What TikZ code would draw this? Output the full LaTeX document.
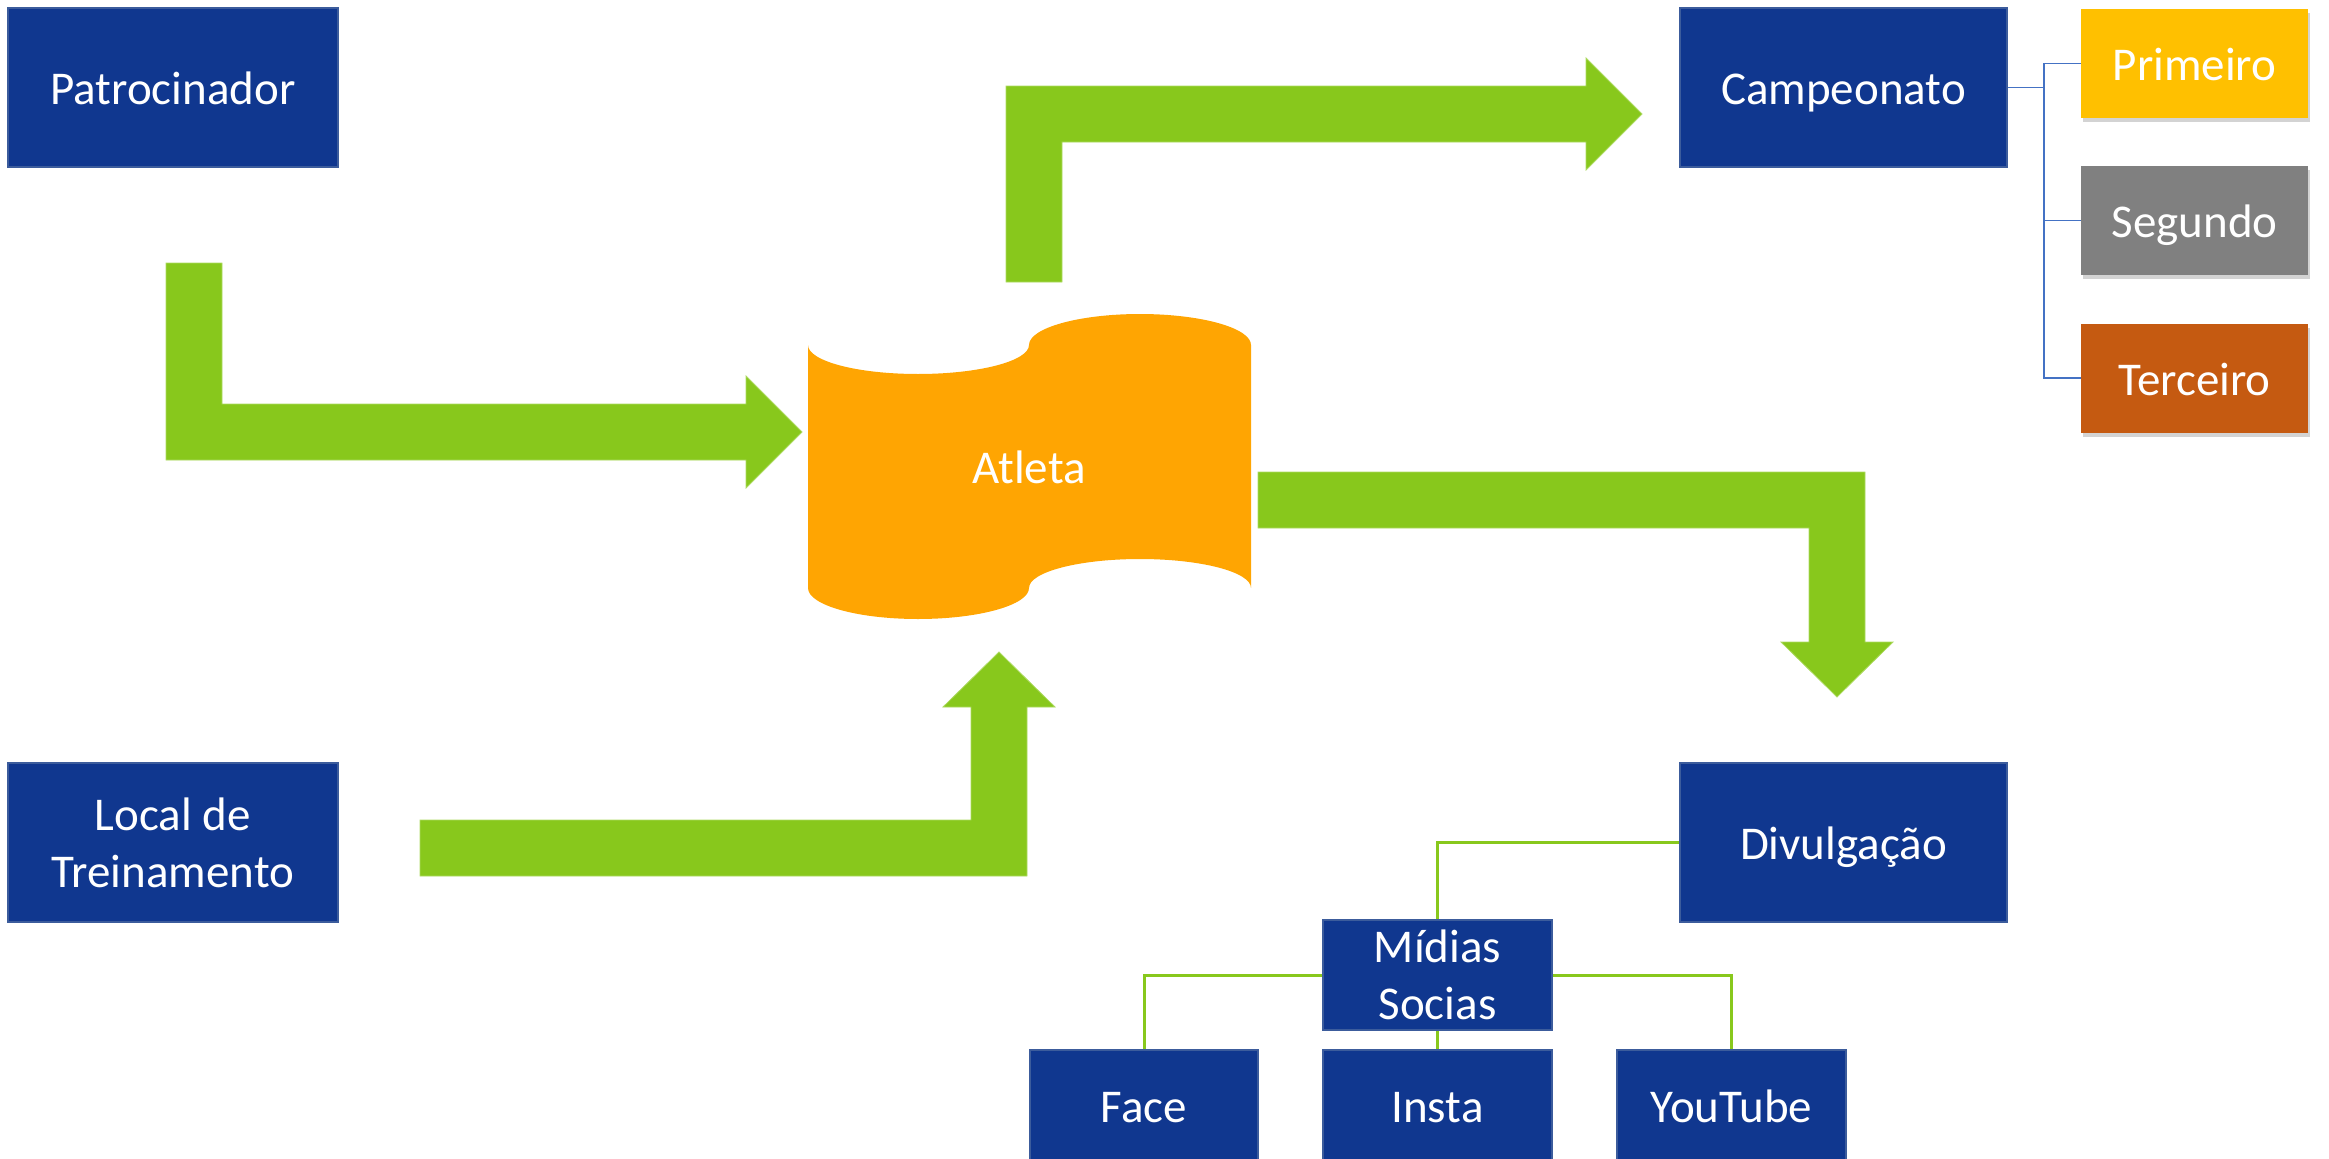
\documentclass[tikz,border=0pt]{standalone}
\usepackage{fontspec}
\setmainfont{Carlito}
\usetikzlibrary{shadows}
\definecolor{boxblue}{HTML}{10378F}
\definecolor{boxedge}{HTML}{3C5C9C}
\definecolor{arrowgreen}{HTML}{88C81C}
\definecolor{linkblue}{HTML}{4472C4}
\definecolor{atleta}{HTML}{FFA502}
\definecolor{gold}{HTML}{FFC000}
\definecolor{silver}{HTML}{808080}
\definecolor{bronze}{HTML}{C55A11}
\tikzset{
  label text/.style={text=white, font=\fontsize{47}{57}\selectfont,
    text height=42pt, text depth=8pt},
  multiline/.style={text height=, text depth=},
  bigbox/.style={label text, draw=boxedge, line width=2pt, fill=boxblue,
    minimum width=330pt, minimum height=159pt, inner sep=0pt, align=center},
  smallbox/.style={bigbox, minimum width=229pt, minimum height=110pt},
  medal/.style={label text, fill=#1, minimum width=227pt, minimum height=109pt,
    inner sep=0pt,
    drop shadow={opacity=0.35, shadow xshift=2pt, shadow yshift=-4pt}},
  blockarrow/.style={fill=arrowgreen, draw=arrowgreen!70!white, line width=0.8pt},
  bluelink/.style={draw=linkblue, line width=1.6pt},
  greenlink/.style={draw=arrowgreen, line width=3pt}
}
\begin{document}
\begin{tikzpicture}[x=1pt,y=-1pt]
\useasboundingbox (0,0) rectangle (2329,1159);

% block arrows
\fill[blockarrow] (166,263) -- (222,263) -- (222,404) -- (746,404) -- (746,376) -- (802,432) -- (746,488) -- (746,460) -- (166,460) -- cycle;
\fill[blockarrow] (1006,282) -- (1006,86) -- (1586,86) -- (1586,58) -- (1642,114) -- (1586,170) -- (1586,142) -- (1062,142) -- (1062,282) -- cycle;
\fill[blockarrow] (1258,472) -- (1865,472) -- (1865,642) -- (1893,642) -- (1837,697) -- (1781,642) -- (1809,642) -- (1809,528) -- (1258,528) -- cycle;
\fill[blockarrow] (420,820) -- (971,820) -- (971,707) -- (943,707) -- (999,652) -- (1055,707) -- (1027,707) -- (1027,876) -- (420,876) -- cycle;

% Atleta tape shape
\fill[atleta] (808,345) .. controls (808,361) and (857,374) .. (918,374)
  .. controls (979,374) and (1029,361) .. (1029,345)
  .. controls (1029,328) and (1079,314) .. (1140,314)
  .. controls (1201,314) and (1251,328) .. (1251,345)
  -- (1251,588)
  .. controls (1251,572) and (1201,559) .. (1140,559)
  .. controls (1079,559) and (1029,572) .. (1029,588)
  .. controls (1029,605) and (979,619) .. (918,619)
  .. controls (857,619) and (808,605) .. (808,588) -- cycle;
\node[label text, inner sep=0pt] (atl) at (1029,466) {Atleta};

% main boxes
\node[bigbox] (pat) at (173,87.5) {Patrocinador};
\node[bigbox, multiline] (loc) at (173,842.5) {Local de\\Treinamento};
\node[bigbox, minimum width=327pt] (camp) at (1843.5,87.5) {Campeonato};
\node[bigbox, minimum width=327pt] (div) at (1843.5,842.5) {Divulgação};

% medals
\node[medal=gold] (prim) at (2194.5,63.5) {Primeiro};
\node[medal=silver] (seg) at (2194.5,220.5) {Segundo};
\node[medal=bronze] (ter) at (2194.5,378) {Terceiro};
\coordinate (cj) at (2044,87.5);
\draw[bluelink] (camp.east) -- (cj);
\draw[bluelink] (cj) |- (prim.west);
\draw[bluelink] (cj) |- (seg.west);
\draw[bluelink] (cj) |- (ter.west);

% social media tree
\node[smallbox, multiline] (mid) at (1437.5,975) {Mídias\\Socias};
\node[smallbox, minimum width=228pt] (face) at (1144,1105) {Face};
\node[smallbox] (insta) at (1437.5,1105) {Insta};
\node[smallbox] (yt) at (1731.5,1105) {YouTube};
\draw[greenlink] (div.west) -| (mid.north);
\draw[greenlink] (mid.west) -| (face.north);
\draw[greenlink] (mid.east) -| (yt.north);
\draw[greenlink] (mid.south) -- (insta.north);
\end{tikzpicture}
\end{document}
